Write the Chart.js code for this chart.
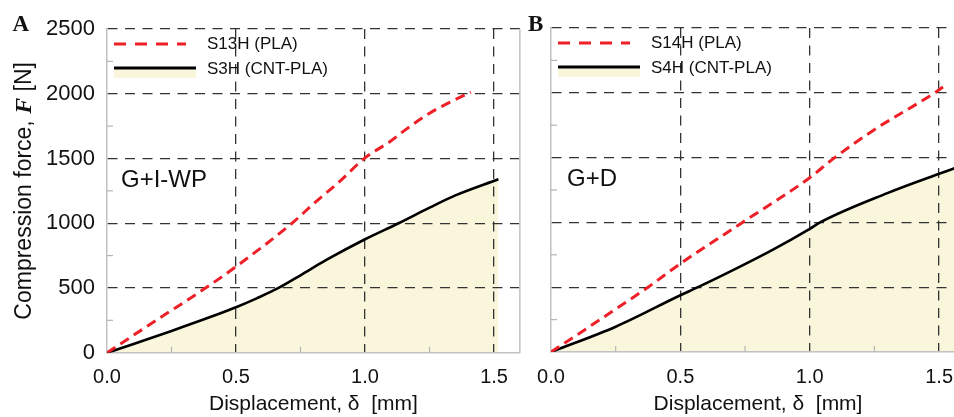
<!DOCTYPE html>
<html>
<head>
<meta charset="utf-8">
<script src="https://cdn.jsdelivr.net/npm/chart.js@4.4.1/dist/chart.umd.min.js"></script>
<style>
html,body{margin:0;padding:0;background:#fff;overflow:hidden;width:954px;height:417px;}
#wa{position:absolute;left:0;top:0;width:521px;height:417px;}
#wb{position:absolute;left:521px;top:0;width:433px;height:417px;overflow:hidden;}
canvas{display:block;}
</style>
</head>
<body>
<div id="wa"><canvas id="ca" width="521" height="417"></canvas></div>
<div id="wb"><canvas id="cb" width="446" height="417"></canvas></div>
<script>
// ---- tick labels ----
const xTicks = [0, 0.5, 1.0, 1.5];
const xMinorTicks = [0.25, 0.75, 1.25];
const yTicks = [0, 500, 1000, 1500, 2000, 2500];
const yMinorTicks = [250, 750, 1250, 1750, 2250];

// ---- panel A (G+I-WP) ----
const dispA_PLA  = [0, 0.2, 0.386, 0.5, 0.72, 0.8, 0.9, 1.0, 1.1, 1.16, 1.25, 1.33, 1.41];
const forceA_PLA = [0, 262, 505, 665, 1005, 1150, 1320, 1505, 1635, 1727, 1850, 1935, 2012];
const dispA_CNT  = [0, 0.1, 0.25, 0.4, 0.5, 0.58, 0.665, 0.75, 0.85, 1.0, 1.13, 1.25, 1.35, 1.517];
const forceA_CNT = [0, 65, 168, 275, 351, 420, 500, 598, 716, 876, 1000, 1120, 1215, 1340];

// ---- panel B (G+D) ----
const dispB_PLA  = [0, 0.2, 0.375, 0.5, 0.74, 1.0, 1.09, 1.244, 1.483, 1.515];
const forceB_PLA = [0, 264, 500, 682, 1000, 1345, 1490, 1708, 2000, 2045];
const dispB_CNT  = [0, 0.25, 0.5, 0.568, 0.858, 1.0, 1.04, 1.3, 1.5, 1.57];
const forceB_CNT = [0, 195, 438, 500, 790, 950, 1000, 1226, 1375, 1425];

const seriesA = ['S13H (PLA)', 'S3H (CNT-PLA)'];
const seriesB = ['S14H (PLA)', 'S4H (CNT-PLA)'];
const xTitle = 'Displacement, \u03b4  [mm]';
const yTitleParts = ['Compression force, ', 'F', ' [N]'];

const RED = '#ee1f26';
const FILL = '#faf6dc';
const GRID = '#333333';
const AXIS = '#c2c2c2';
const SANS = '"Liberation Sans", Arial, Helvetica, sans-serif';
const SERIF = '"Liberation Serif", "Times New Roman", serif';

function pts(xs, ys) { return xs.map((x, i) => ({x: x, y: ys[i]})); }

const deco = {
  id: 'deco',
  afterDraw(chart, args, o) {
    const ctx = chart.ctx, a = chart.chartArea, x = chart.scales.x, y = chart.scales.y;
    ctx.save();
    if (o.rightBorder) {
      ctx.strokeStyle = AXIS; ctx.lineWidth = 1.5;
      ctx.beginPath(); ctx.moveTo(a.right, a.top); ctx.lineTo(a.right, a.bottom); ctx.stroke();
    }
    // minor ticks
    ctx.strokeStyle = '#b5b5b5'; ctx.lineWidth = 1.2;
    xMinorTicks.forEach(v => {
      const px = x.getPixelForValue(v);
      ctx.beginPath(); ctx.moveTo(px, a.bottom); ctx.lineTo(px, a.bottom - 6); ctx.stroke();
    });
    yMinorTicks.forEach(v => {
      const py = y.getPixelForValue(v);
      ctx.beginPath(); ctx.moveTo(a.left, py); ctx.lineTo(a.left + 6, py); ctx.stroke();
    });
    // legend
    const ds = chart.data.datasets;
    const l = a.left;
    const r1 = a.top + 15, r2 = a.top + 39;
    ctx.lineCap = 'butt';
    ctx.strokeStyle = ds[0].borderColor; ctx.lineWidth = 3; ctx.setLineDash([12, 9]);
    ctx.beginPath(); ctx.moveTo(l + 7, r1); ctx.lineTo(l + 79, r1); ctx.stroke();
    ctx.setLineDash([]);
    ctx.fillStyle = ds[1].backgroundColor;
    ctx.fillRect(l + 7, r2, 82, 10);
    ctx.strokeStyle = ds[1].borderColor; ctx.lineWidth = 3;
    ctx.beginPath(); ctx.moveTo(l + 7, r2); ctx.lineTo(l + 89, r2); ctx.stroke();
    ctx.fillStyle = '#111'; ctx.font = '17px ' + SANS; ctx.textBaseline = 'middle'; ctx.textAlign = 'left';
    ctx.fillText(ds[0].label, l + 100, r1 + 0.5);
    ctx.fillText(ds[1].label, l + 100, r2 + 1);
    // annotation
    ctx.font = '24px ' + SANS; ctx.textBaseline = 'alphabetic';
    ctx.fillText(o.note, l + o.noteDx, a.top + 158);
    // panel letter
    ctx.font = 'bold 23px ' + SERIF;
    ctx.fillText(o.letter, o.letterX, 30.5);
    // y title
    if (o.yTitle) {
      ctx.save();
      ctx.translate(25, (a.top + a.bottom) / 2);
      ctx.rotate(-Math.PI / 2);
      const fonts = ['23px ' + SANS, 'italic bold 24px ' + SERIF, '23px ' + SANS];
      const w = yTitleParts.map((p, i) => { ctx.font = fonts[i]; return ctx.measureText(p).width; });
      let xx = -w.reduce((s, v) => s + v, 0) / 2;
      ctx.textBaseline = 'middle'; ctx.textAlign = 'left';
      yTitleParts.forEach((p, i) => { ctx.font = fonts[i]; ctx.fillText(p, xx, 0); xx += w[i]; });
      ctx.restore();
    }
    ctx.restore();
  }
};

function makeChart(id, labels, plaX, plaY, cntX, cntY, cfg) {
  return new Chart(document.getElementById(id), {
    type: 'line',
    data: {
      datasets: [
        { label: labels[0], data: pts(plaX, plaY), borderColor: RED, borderWidth: 3,
          borderDash: [10, 6], pointRadius: 0, fill: false, cubicInterpolationMode: 'monotone' },
        { label: labels[1], data: pts(cntX, cntY), borderColor: '#000', borderWidth: 2.6,
          backgroundColor: FILL, pointRadius: 0, fill: 'origin', cubicInterpolationMode: 'monotone' }
      ]
    },
    options: {
      responsive: false, animation: false,
      layout: { padding: { top: cfg.top, right: cfg.right, left: 0, bottom: 0 } },
      plugins: {
        legend: { display: false }, tooltip: { enabled: false },
        filler: { drawTime: 'beforeDraw' },
        deco: cfg.deco
      },
      scales: {
        x: {
          type: 'linear', min: 0, max: 1.6,
          afterBuildTicks: s => { s.ticks = xTicks.map(v => ({value: v})); },
          afterFit: s => { s.height = cfg.xh; },
          ticks: { callback: v => v.toFixed(1), color: '#111', padding: 13, font: { size: 20, family: SANS } },
          grid: { drawTicks: false, lineWidth: 1.3, color: c => (c.tick && c.tick.value === 0) ? 'rgba(0,0,0,0)' : GRID },
          border: { display: true, color: AXIS, width: 1.5, dash: [10, 7.5] },
          title: { display: true, text: xTitle, color: '#111', padding: { top: 0, bottom: 0 }, font: { size: 21, family: SANS } }
        },
        y: {
          type: 'linear', min: 0, max: 2500,
          afterBuildTicks: s => { s.ticks = yTicks.map(v => ({value: v})); },
          afterFit: s => { s.width = cfg.yw; },
          ticks: { display: cfg.yLabels, callback: v => String(v), color: '#111', padding: 12, font: { size: 22, family: SANS } },
          grid: { drawTicks: false, lineWidth: 1.3, color: c => (c.tick && c.tick.value === 0) ? 'rgba(0,0,0,0)' : GRID },
          border: { display: true, color: AXIS, width: 1.5, dash: [10, 7.5] }
        }
      }
    },
    plugins: [deco]
  });
}

makeChart('ca', seriesA, dispA_PLA, forceA_PLA, dispA_CNT, forceA_CNT, {
  top: 29, right: 1, xh: 64.3, yw: 107, yLabels: true,
  deco: { rightBorder: true, note: 'G+I-WP', noteDx: 14, letter: 'A', letterX: 12.5, yTitle: true }
});
makeChart('cb', seriesB, dispB_PLA, forceB_PLA, dispB_CNT, forceB_CNT, {
  top: 28, right: 2, xh: 65, yw: 30, yLabels: false,
  deco: { rightBorder: true, note: 'G+D', noteDx: 16, letter: 'B', letterX: 7, yTitle: false }
});
</script>
</body>
</html>
